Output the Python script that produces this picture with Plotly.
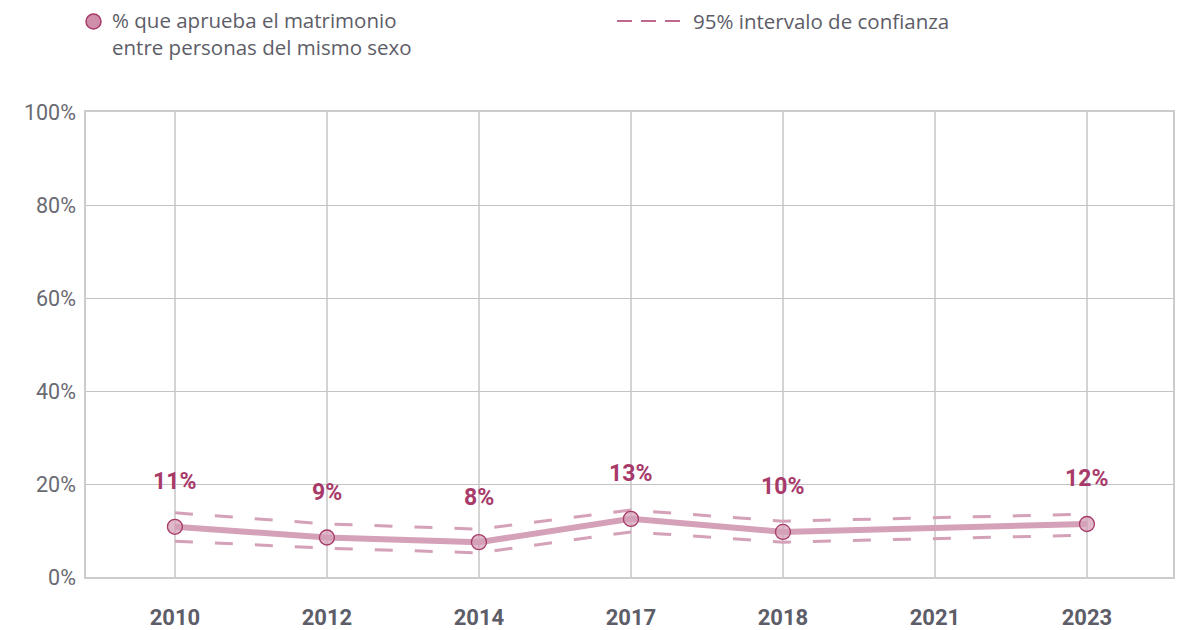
import plotly.graph_objects as go

years = ["2010", "2012", "2014", "2017", "2018", "2021", "2023"]
approve = [10.8, 8.5, 7.5, 12.5, 9.7, None, 11.4]
ci_upper = [13.8, 11.4, 10.3, 14.4, 12.0, None, 13.5]
ci_lower = [7.7, 6.2, 5.2, 9.7, 7.5, None, 9.0]
labels = ["11%", "9%", "8%", "13%", "10%", "", "12%"]
y_ticks = [0, 20, 40, 60, 80, 100]
y_tick_text = ["0%", "20%", "40%", "60%", "80%", "100%"]
legend_main = "% que aprueba el matrimonio<br>entre personas del mismo sexo"
legend_ci = "95% intervalo de confianza"

line_col = "#d4a1b8"
dark_col = "#a83a6a"
text_col = "#5d5d68"

fig = go.Figure()
for ci in (ci_upper, ci_lower):
    fig.add_trace(go.Scatter(x=years, y=ci, mode="lines", connectgaps=True,
                             line=dict(color=line_col, width=3, dash="18px,22px"),
                             showlegend=False, hoverinfo="skip"))
fig.add_trace(go.Scatter(x=years, y=approve, mode="lines+markers", connectgaps=True,
                         line=dict(color=line_col, width=6),
                         marker=dict(size=15, color="rgba(212,161,184,0.75)",
                                     line=dict(color=dark_col, width=1.3)),
                         showlegend=False))

for i, (v, t) in enumerate(zip(approve, labels)):
    if v is None or not t:
        continue
    fig.add_annotation(x=i, y=v, text="<b>" + t + "</b>", showarrow=False,
                       yshift=45, font=dict(family="Roboto", size=23, color=dark_col))

# manual legend
W, H, L, T = 1087, 465, 86, 112
fig.add_shape(type="circle", xref="paper", yref="paper",
              x0=(86 - L) / W, x1=(101 - L) / W,
              y0=1 + (T - 29) / H, y1=1 + (T - 14) / H,
              fillcolor="#cf8fab", line=dict(color=dark_col, width=1.5))
fig.add_annotation(xref="paper", yref="paper", x=(111 - L) / W,
                   y=1 + (T - 33.5) / H,
                   xanchor="left", yanchor="middle", align="left", showarrow=False,
                   text=legend_main, borderpad=0,
                   font=dict(family="Open Sans", size=20.5, color=text_col))
fig.add_shape(type="line", xref="paper", yref="paper",
              x0=(617 - L) / W, x1=(680 - L) / W,
              y0=1 + (T - 21) / H, y1=1 + (T - 21) / H,
              line=dict(color=dark_col, width=1.3, dash="15px,9px"))
fig.add_annotation(xref="paper", yref="paper", x=(692 - L) / W, y=1 + (T - 21) / H,
                   xanchor="left", yanchor="middle", showarrow=False,
                   text=legend_ci, borderpad=0,
                   font=dict(family="Open Sans", size=20.5, color=text_col))

fig.update_layout(
    width=1199, height=630,
    margin=dict(l=86, r=26, t=112, b=53),
    paper_bgcolor="white", plot_bgcolor="white",
    showlegend=False,
    xaxis=dict(type="category", range=[-0.585, 6.566], showgrid=True, automargin=False,
               gridcolor="#d4d4d4", gridwidth=1.5, showline=True, linecolor="#cccccc",
               linewidth=1.5, mirror=True, ticks="", ticklabelstandoff=20,
               tickfont=dict(family="Roboto", size=22, color=text_col, weight="bold")),
    yaxis=dict(range=[0, 100], tickvals=y_ticks, ticktext=y_tick_text, automargin=False,
               showgrid=True, gridcolor="#c4c4c4", gridwidth=1, zeroline=False,
               showline=True, linecolor="#cccccc", linewidth=1.5, mirror=True,
               ticks="", ticklabelstandoff=4,
               tickfont=dict(family="Roboto", size=21.5, color="#6a6a72")),
)

fig.write_html(
    "out.html",
    config={"responsive": False, "displayModeBar": False},
    post_script="document.body.style.margin='0';"
                "Plotly.relayout('{plot_id}', {width: 1199, height: 630});",
)
